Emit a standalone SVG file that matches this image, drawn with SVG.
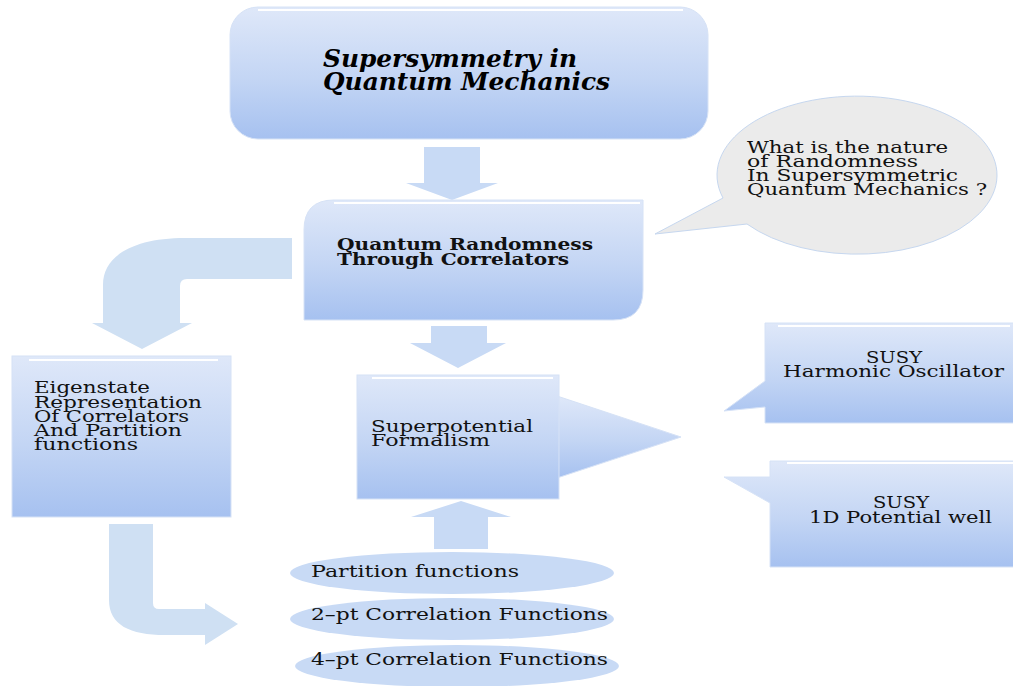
<svg xmlns="http://www.w3.org/2000/svg" width="1013" height="686" viewBox="0 0 1013 686">
<defs>
<linearGradient id="g" x1="0" y1="0" x2="0" y2="1">
<stop offset="0" stop-color="#dfe8f9"/>
<stop offset="0.55" stop-color="#c3d5f4"/>
<stop offset="1" stop-color="#a6c1f0"/>
</linearGradient>
<style>
.box{fill:url(#g);stroke:#d6e2f6;stroke-width:1}
.hl{stroke:#ffffff;stroke-width:2}
.arr{fill:#c8daf5}
.bent{fill:#cfe0f3}
.oval{fill:#c8daf5}
.t{font-family:"DejaVu Serif","Liberation Serif",serif;font-size:16px;fill:#111}
.b{font-weight:bold}
.title{font-family:"DejaVu Serif","Liberation Serif",serif;font-style:italic;font-weight:bold;font-size:25px;fill:#000}
</style>
</defs>
<rect width="1013" height="686" fill="#ffffff"/>
<g id="connectors">
<polygon class="arr" points="424,147 480,147 480,183 498,183 452,200 406,183 424,183"/>
<polygon class="arr" points="431,326 487,326 487,343 506,343 458,368 410,343 431,343"/>
<polygon class="arr" points="434,549 488,549 488,517 511,517 461,501 411,517 434,517"/>
<path class="bent" d="M292,238 L185,238 C135,238 103,255 103,285 L103,323 L92,323 L142,349 L192,323 L180,323 L180,286 Q180,279 187,279 L292,279 Z"/>
<path class="bent" d="M109,524 L153,524 L153,603 Q153,609 159,609 L205,609 L205,603 L238,624 L205,645 L205,635 L165,635 C130,635 109,625 109,600 Z"/>
</g>
<g id="title">
<rect class="box" x="230" y="7" width="478" height="132" rx="28" ry="28"/>
<line class="hl" x1="258" y1="10" x2="683" y2="10"/>
<text class="title" x="323" y="67" textLength="254" lengthAdjust="spacingAndGlyphs">Supersymmetry in</text>
<text class="title" x="323" y="90" textLength="287" lengthAdjust="spacingAndGlyphs">Quantum Mechanics</text>
</g>
<g id="bubble">
<path d="M723,198 L655,234 L747,224 A140 79 0 1 0 723,198 Z" fill="#ebebeb" stroke="#c6d7ef" stroke-width="1"/>
<text class="t" x="747" y="153" textLength="201" lengthAdjust="spacingAndGlyphs">What is the nature</text>
<text class="t" x="747" y="167" textLength="171" lengthAdjust="spacingAndGlyphs">of Randomness</text>
<text class="t" x="747" y="181" textLength="211" lengthAdjust="spacingAndGlyphs">In Supersymmetric</text>
<text class="t" x="747" y="195" textLength="240" lengthAdjust="spacingAndGlyphs">Quantum Mechanics ?</text>
</g>
<g id="randomness">
<path class="box" d="M304,230 Q304,200 334,200 L643,200 L643,290 Q643,320 613,320 L304,320 Z"/>
<line class="hl" x1="334" y1="203" x2="640" y2="203"/>
<text class="t b" x="337" y="250" textLength="256" lengthAdjust="spacingAndGlyphs">Quantum Randomness</text>
<text class="t b" x="337" y="265" textLength="232" lengthAdjust="spacingAndGlyphs">Through Correlators</text>
</g>
<g id="eigenstate">
<rect class="box" x="12" y="356" width="219" height="161"/>
<line class="hl" x1="29" y1="360" x2="218" y2="360"/>
<text class="t" x="34" y="393" textLength="116" lengthAdjust="spacingAndGlyphs">Eigenstate</text>
<text class="t" x="34" y="408" textLength="168" lengthAdjust="spacingAndGlyphs">Representation</text>
<text class="t" x="34" y="422" textLength="155" lengthAdjust="spacingAndGlyphs">Of Correlators</text>
<text class="t" x="34" y="436" textLength="148" lengthAdjust="spacingAndGlyphs">And Partition</text>
<text class="t" x="34" y="450" textLength="104" lengthAdjust="spacingAndGlyphs">functions</text>
</g>
<g id="superpotential">
<polygon class="box" points="557,396 681,437 557,478"/>
<rect class="box" x="357" y="375" width="202" height="124"/>
<line class="hl" x1="372" y1="378" x2="553" y2="378"/>
<text class="t" x="371" y="432" textLength="162" lengthAdjust="spacingAndGlyphs">Superpotential</text>
<text class="t" x="371" y="446" textLength="119" lengthAdjust="spacingAndGlyphs">Formalism</text>
</g>
<g id="harmonic">
<path class="box" d="M765,323 L1014,323 L1014,423 L765,423 L765,407 L724,411 L765,381 Z"/>
<line class="hl" x1="778" y1="326" x2="1010" y2="326"/>
<text class="t" x="866" y="363" textLength="56" lengthAdjust="spacingAndGlyphs">SUSY</text>
<text class="t" x="783" y="377" textLength="221" lengthAdjust="spacingAndGlyphs">Harmonic Oscillator</text>
</g>
<g id="well">
<path class="box" d="M770,461 L1014,461 L1014,567 L770,567 L770,503 L724,477 L770,477 Z"/>
<line class="hl" x1="787" y1="463" x2="1013" y2="463"/>
<text class="t" x="873" y="508" textLength="56" lengthAdjust="spacingAndGlyphs">SUSY</text>
<text class="t" x="809" y="523" textLength="183" lengthAdjust="spacingAndGlyphs">1D Potential well</text>
</g>
<g id="partition">
<ellipse class="oval" cx="452" cy="573" rx="162" ry="21"/>
<text class="t" x="311" y="577" textLength="208" lengthAdjust="spacingAndGlyphs">Partition functions</text>
</g>
<g id="corr2">
<ellipse class="oval" cx="452" cy="619" rx="162" ry="21"/>
<text class="t" x="311" y="620" textLength="297" lengthAdjust="spacingAndGlyphs">2–pt Correlation Functions</text>
</g>
<g id="corr4">
<ellipse class="oval" cx="457" cy="666" rx="162" ry="21"/>
<text class="t" x="311" y="665" textLength="297" lengthAdjust="spacingAndGlyphs">4–pt Correlation Functions</text>
</g>
</svg>
